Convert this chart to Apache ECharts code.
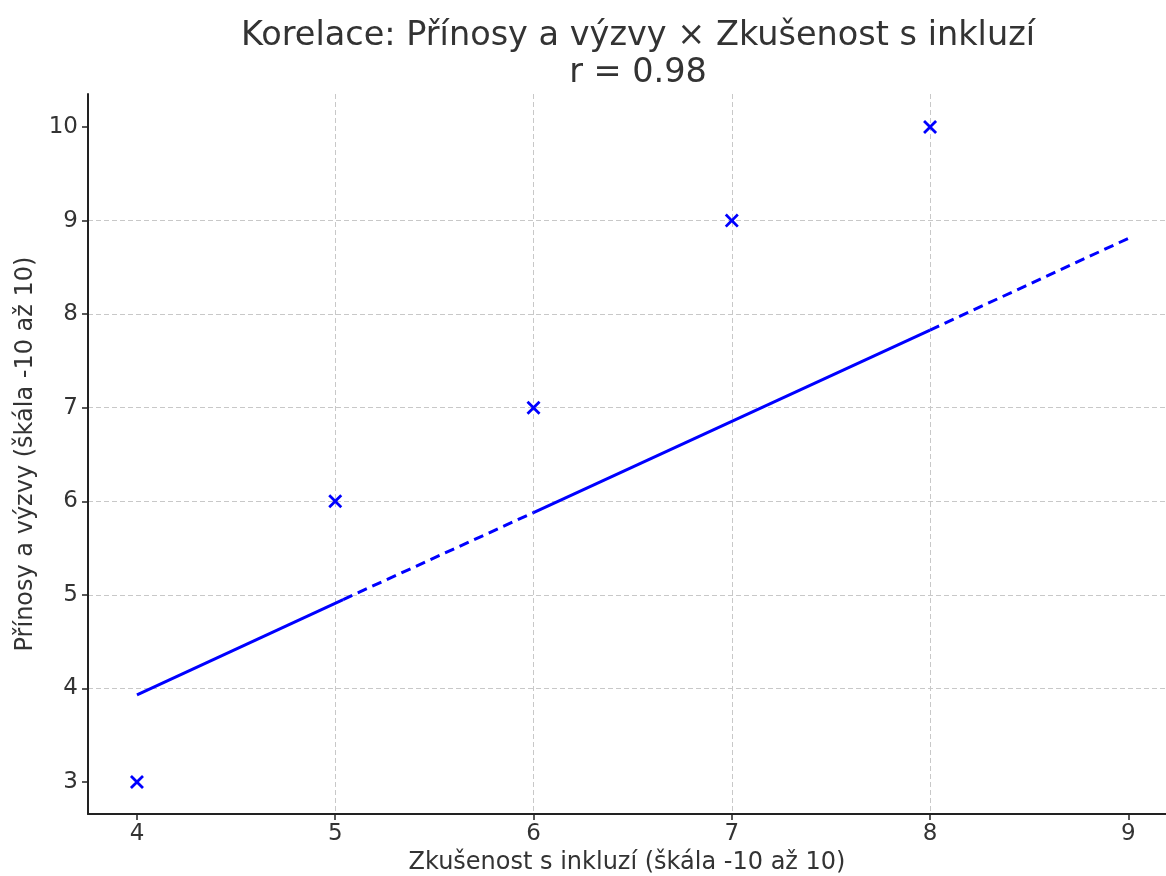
<!DOCTYPE html>
<html>
<head>
<meta charset="utf-8">
<script src="https://cdn.jsdelivr.net/npm/echarts@6/dist/echarts.min.js"></script>
<style>
  html, body { margin: 0; padding: 0; background: #fff; }
  #chart { width: 1166px; height: 876px; }
</style>
</head>
<body>
<div id="chart"></div>
<script>
// body data
var xValues = [4, 5, 6, 7, 8]
var yValues = [3, 6, 7, 9, 10]
// regression line break points (x / y) and the style of each piece
var fitX = [4, 5.04, 6, 8, 9]
var fitY = [3.93, 4.95, 5.88, 7.83, 8.81]
var fitStyle = ['solid', 'dashed', 'solid', 'dashed']
var xTicks = [4, 5, 6, 7, 8, 9]
var yTicks = [3, 4, 5, 6, 7, 8, 9, 10]

var chart = echarts.init(document.getElementById('chart'))
var font = 'DejaVu Sans'
var textColor = '#333333'

var points = xValues.map(function (x, i) { return [x, yValues[i]] })

var series = [{
  name: 'data',
  type: 'scatter',
  // x shaped marker
  symbol: 'path://M1.4,0 L5,3.6 L8.6,0 L10,1.4 L6.4,5 L10,8.6 L8.6,10 L5,6.4 L1.4,10 L0,8.6 L3.6,5 L0,1.4 Z',
  symbolSize: 14,
  itemStyle: { color: '#0000ff', opacity: 1 },
  z: 5,
  data: points
}]

fitStyle.forEach(function (style, i) {
  series.push({
    type: 'line',
    showSymbol: false,
    symbol: 'none',
    lineStyle: {
      color: '#0000ff',
      width: 3,
      type: style === 'dashed' ? [10, 6] : 'solid'
    },
    data: [[fitX[i], fitY[i]], [fitX[i + 1], fitY[i + 1]]]
  })
})

var axisCommon = {
  type: 'value',
  nameLocation: 'middle',
  nameTextStyle: { fontFamily: font, fontSize: 24, color: textColor },
  axisLine: { show: true, lineStyle: { color: '#222222', width: 2 } },
  axisTick: { show: true, inside: false, length: 6, lineStyle: { color: '#222222', width: 1.5 } },
  splitLine: { show: true, showMinLine: false, showMaxLine: false, lineStyle: { color: '#c8c8c8', width: 1, type: [5, 3] } }
}

chart.setOption({
  animation: false,
  backgroundColor: '#ffffff',
  title: {
    text: 'Korelace: Přínosy a výzvy × Zkušenost s inkluzí\nr = 0.98',
    left: 633,
    textAlign: 'center',
    top: 13,
    textStyle: { fontFamily: font, fontSize: 33.5, fontWeight: 'normal', color: textColor, lineHeight: 37 }
  },
  grid: { left: 88, right: 0, top: 94, bottom: 62, containLabel: false, outerBoundsMode: 'none' },
  xAxis: Object.assign({}, axisCommon, {
    name: 'Zkušenost s inkluzí (škála -10 až 10)',
    nameGap: 36,
    min: 3.753,
    max: 9.19,
    axisTick: Object.assign({}, axisCommon.axisTick, { customValues: xTicks }),
    axisLabel: { customValues: xTicks, margin: 9, fontFamily: font, fontSize: 23, color: textColor }
  }),
  yAxis: Object.assign({}, axisCommon, {
    name: 'Přínosy a výzvy (škála -10 až 10)',
    nameGap: 50,
    nameRotate: 90,
    min: 2.658,
    max: 10.353,
    axisTick: Object.assign({}, axisCommon.axisTick, { customValues: yTicks }),
    axisLabel: { customValues: yTicks, margin: 10, fontFamily: font, fontSize: 23, color: textColor }
  }),
  series: series
})
</script>
</body>
</html>
